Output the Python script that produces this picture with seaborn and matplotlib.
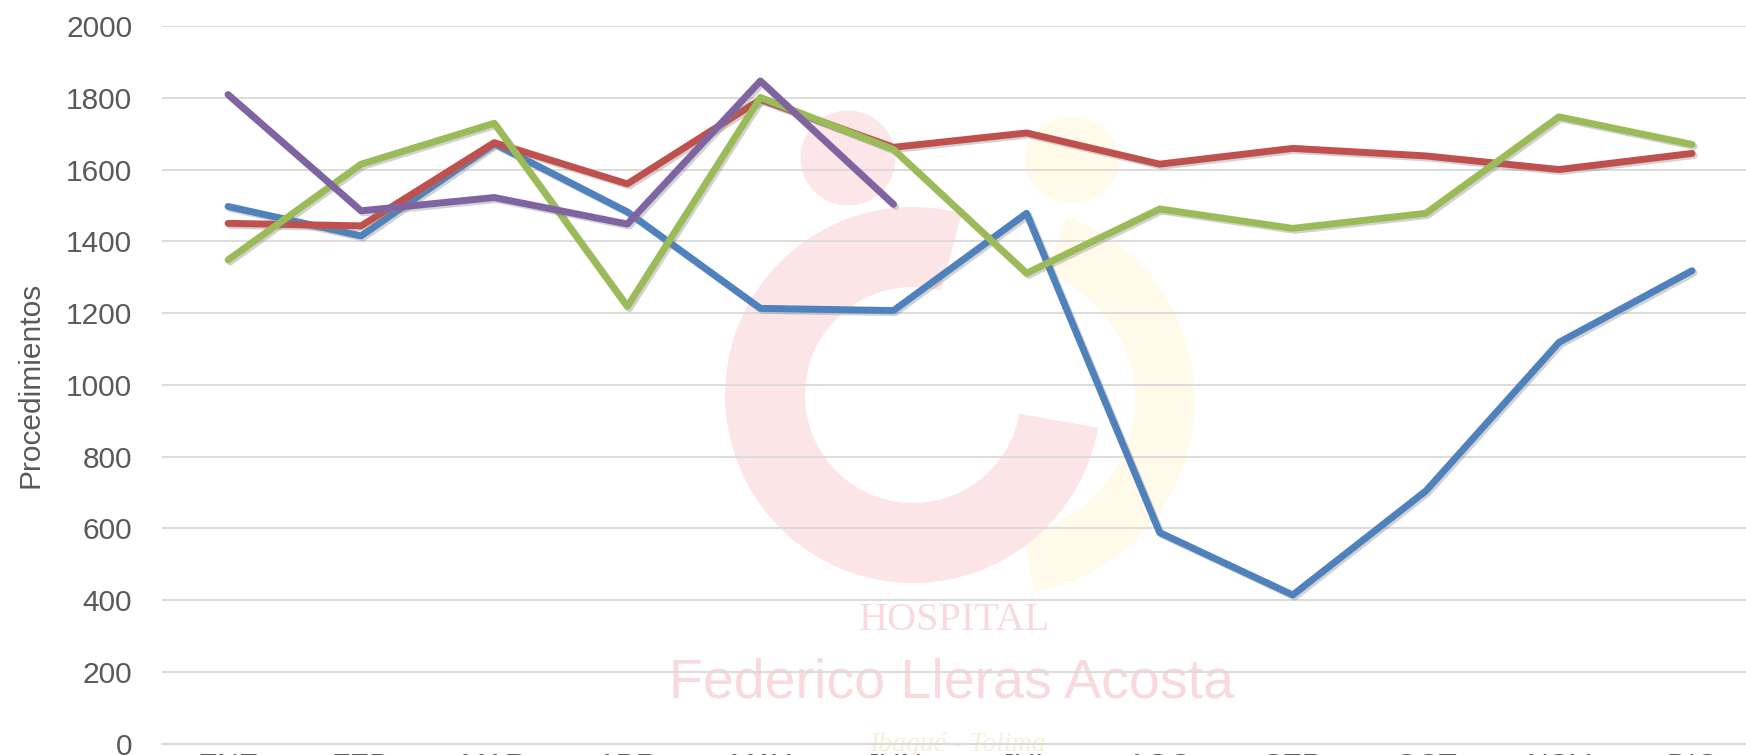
import numpy as np
import pandas as pd
import matplotlib
matplotlib.use("Agg")
import matplotlib.pyplot as plt
import matplotlib.patheffects as pe
from matplotlib.patches import Ellipse, Wedge
import seaborn as sns

meses= ["ENE", "FEB", "MAR", "ABR", "MAY", "JUN", "JUL", "AGO", "SEP", "OCT", "NOV", "DIC"]
serie_azul= [1497, 1415, 1672, 1482, 1213, 1207, 1478, 588, 414, 704, 1118, 1318]
serie_roja= [1450, 1443, 1675, 1560, 1795, 1662, 1702, 1615, 1659, 1638, 1600, 1645]
serie_verde= [1348, 1615, 1729, 1218, 1801, 1656, 1311, 1490, 1436, 1478, 1747, 1670]
serie_morada= [1809, 1485, 1522, 1448, 1847, 1503]
yticks= list(range(0, 2001, 200))

series= {"Serie 1": serie_azul, "Serie 2": serie_roja, "Serie 3": serie_verde, "Serie 4": serie_morada}
colores= {"Serie 1": "#4F81BD", "Serie 2": "#C0504D", "Serie 3": "#9BBB59", "Serie 4": "#8064A2"}

rows= []
for name, vals in series.items():
    for m, v in zip(meses, vals):
        rows.append({"Mes": m, "Procedimientos": v, "Serie": name})
df= pd.DataFrame(rows)

sns.set_theme(style="white")
plt.rcParams["font.family"]= ["Liberation Sans", "DejaVu Sans"]

fig= plt.figure(figsize=(17.46, 7.55), dpi=100)
ax= fig.add_axes([0.0925, 0.0152, 0.9147, 0.9503])
ax.set_facecolor("none")

# marca de agua (logo del hospital), muy tenue, en pulgadas
tr= fig.dpi_scale_trans
def px(x, y):
    return (x / 100, (755 - y) / 100)

fig.add_artist(Wedge(px(1000, 400), 1.95, -80, 70, width=0.6, transform=tr,
                     facecolor="#FFFAE9", edgecolor="none", zorder=-2))
fig.add_artist(Wedge(px(913, 395), 1.88, 75, 350, width=0.8, transform=tr,
                     facecolor="#FCE5E7", edgecolor="none", zorder=-2))
fig.add_artist(Ellipse(px(848, 158), 0.95, 0.95, transform=tr,
                       facecolor="#FCE6E8", edgecolor="none", zorder=-2))
fig.add_artist(Ellipse(px(1072, 160), 0.95, 0.86, transform=tr,
                       facecolor="#FFFAE9", edgecolor="none", zorder=-2))
fig.text(954 / 1746, 1 - 621 / 755, "HOSPITAL", family=["Liberation Serif", "DejaVu Serif"],
         fontsize=29, color="#F8DADC", ha="center", va="center", zorder=-1)
fig.text(952 / 1746, 1 - 683 / 755, "Federico Lleras Acosta",
         family=["Liberation Sans Narrow", "Liberation Sans", "DejaVu Sans"],
         fontsize=40, color="#F8DADC", ha="center", va="center", zorder=-1)
fig.text(957 / 1746, 1 - 732 / 755, "Ibagué - Tolima", family=["Liberation Serif", "DejaVu Serif"],
         fontsize=20, style="italic", color="#F8F0D2", ha="center", va="top", zorder=-1)

sns.lineplot(data=df, x="Mes", y="Procedimientos", hue="Serie", palette=colores,
             estimator=None, sort=False, legend=False, linewidth=5, ax=ax,
             solid_capstyle="round",
             path_effects=[pe.SimpleLineShadow(offset=(1.5, -1.5), shadow_color="#808080", alpha=0.35),
                           pe.Normal()])

ax.set_xlim(-0.5, len(meses) - 0.5)
ax.set_ylim(0, 2000)
ax.set_yticks(yticks)
ax.set_xticks(range(len(meses)))
ax.set_xticklabels(meses)
ax.set_xticks(np.arange(-0.5, len(meses), 1.0), minor=True)
ax.grid(axis="y", color="#D9D9D9", linewidth=1.3)
ax.grid(axis="x", visible=False)
for s in ["top", "right", "left"]:
    ax.spines[s].set_visible(False)
ax.spines["bottom"].set_color("#D9D9D9")
ax.spines["bottom"].set_linewidth(1.5)

ax.tick_params(axis="y", length=0, pad=21, labelsize=21.5, labelcolor="#595959")
ax.tick_params(axis="x", which="major", length=0, pad=6, labelsize=21.5, labelcolor="#595959")
ax.tick_params(axis="x", which="minor", length=20, width=1.5, color="#D9D9D9", direction="out")

ax.set_xlabel("")
ax.set_ylabel("Procedimientos", fontsize=21.5, color="#595959")
ax.yaxis.set_label_coords(-0.073, 0.5)

fig.savefig("out.png", dpi=100)
